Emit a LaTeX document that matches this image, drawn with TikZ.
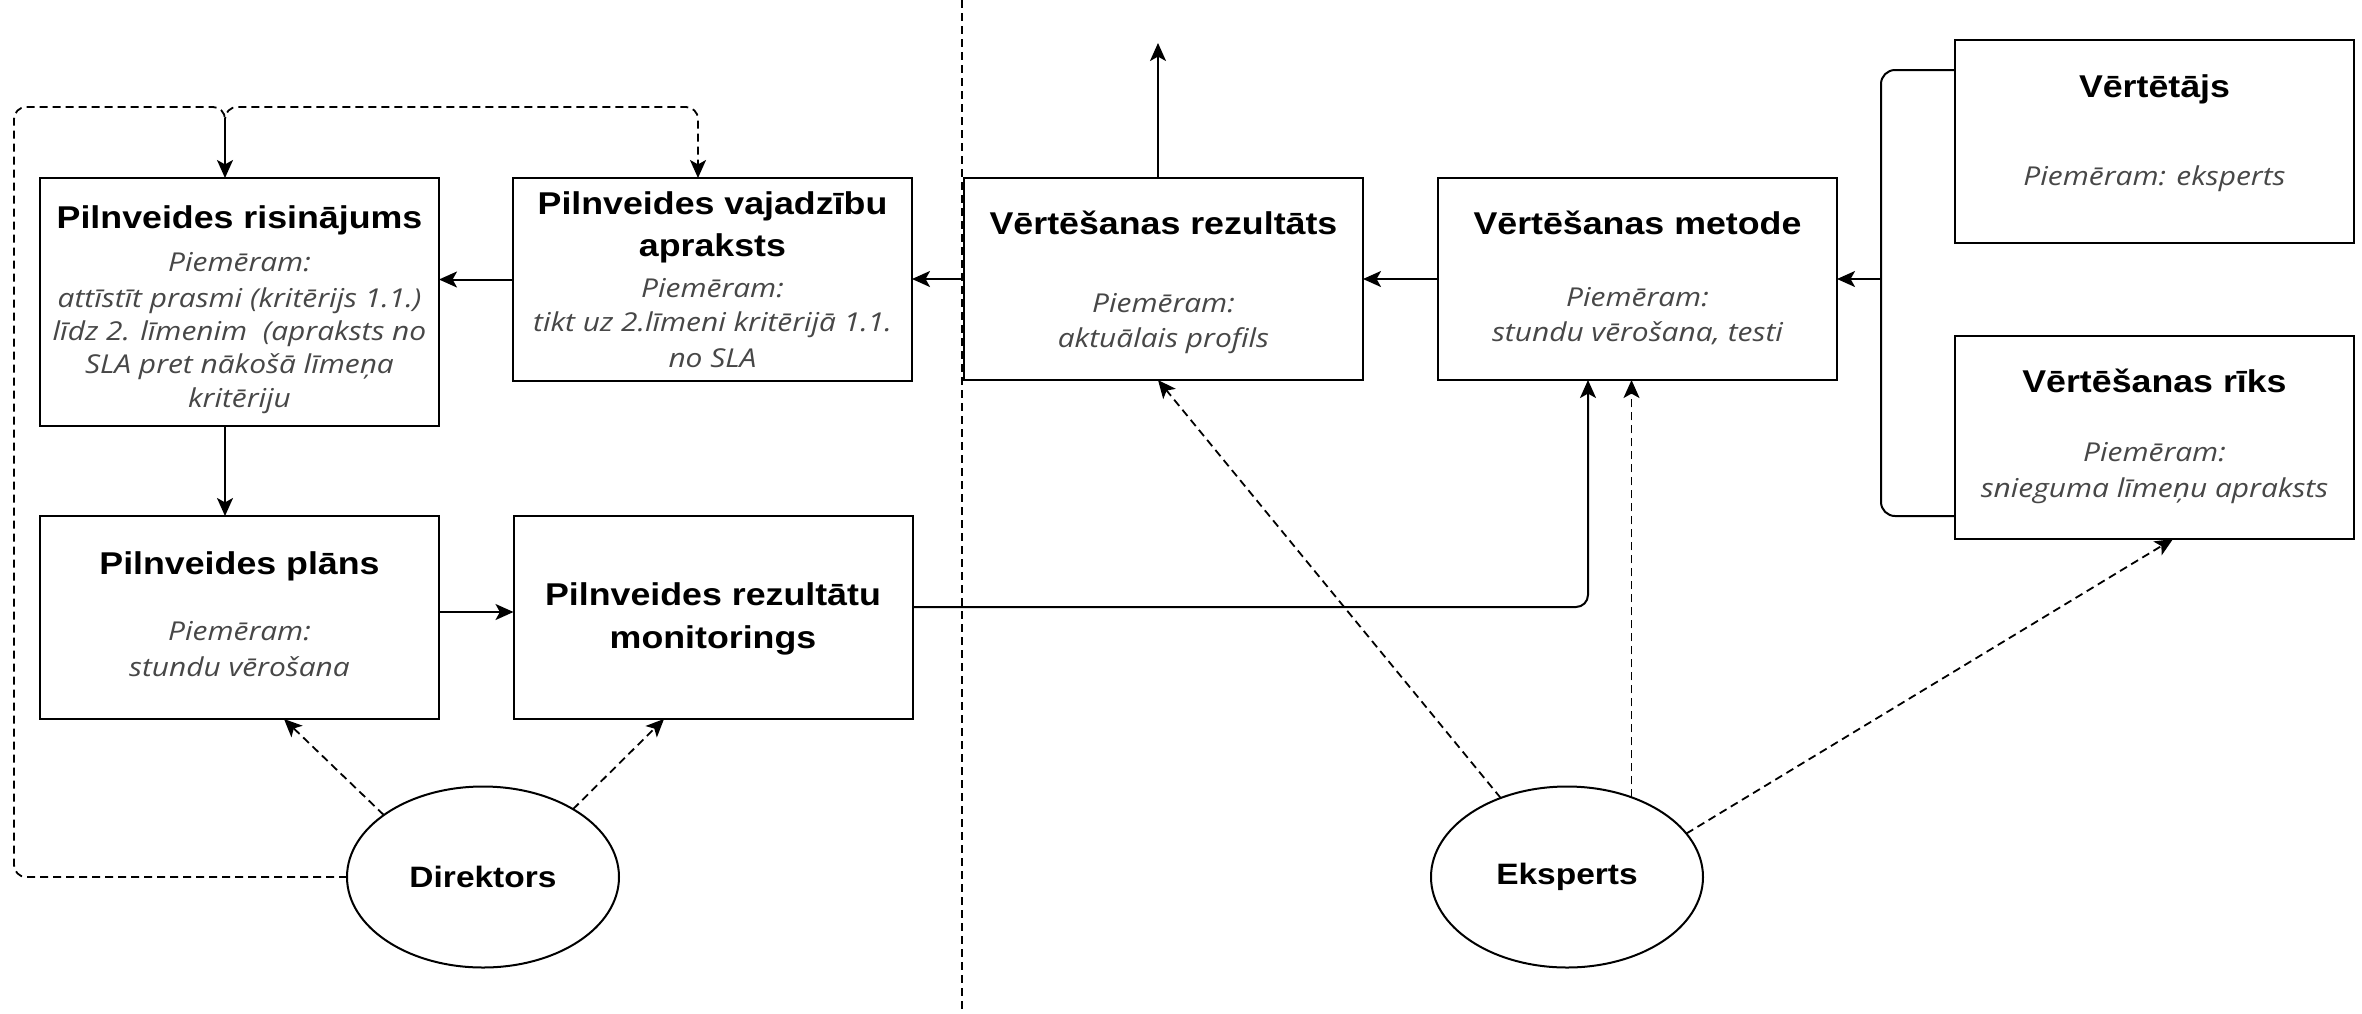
\documentclass[tikz,border=0pt]{standalone}
\usepackage{fontspec}
\setmainfont{Liberation Sans}
\newfontfamily\ttlfont[FakeStretch=1.135]{Liberation Sans}
\newfontfamily\exfont[FakeStretch=1.15]{Open Sans}
\usetikzlibrary{arrows.meta,shapes.geometric}
\tikzset{
  box/.style={draw, line width=1pt, inner sep=0pt, outer sep=0pt, minimum width=199.5pt, fill=white},
  actor/.style={draw, ellipse, line width=1pt, inner sep=0pt, outer sep=0pt, minimum width=136pt, minimum height=90.5pt, fill=white,
    font=\ttlfont\bfseries\fontsize{14.75pt}{18pt}\selectfont},
  ttl/.style={font=\ttlfont\bfseries\fontsize{15.75pt}{21pt}\selectfont, inner sep=0pt, text height=11.3pt, text depth=0pt},
  ex/.style={font=\exfont\itshape\fontsize{13pt}{17pt}\selectfont, text=black!72, inner sep=0pt, text height=9.3pt, text depth=0pt},
  tip/.style={-{Stealth[length=9pt,width=8pt,inset=2.2pt]}},
  conn/.style={line width=1pt, tip},
  dconn/.style={line width=0.9pt, tip, dash pattern=on 4pt off 2.5pt},
  link/.style={line width=1pt},
  dlink/.style={line width=0.9pt, dash pattern=on 4pt off 2.5pt},
  divider/.style={line width=0.6pt, dash pattern=on 4pt off 2.5pt}
}
\begin{document}
\begin{tikzpicture}[x=0.5pt,y=-0.5pt]
\useasboundingbox[fill=white] (0,0) rectangle (2362,1013);

% divider
\coordinate (divtop) at (962,0);
\coordinate (divbot) at (962,1013);
\draw[divider] (divtop) -- (divbot);

% boxes
\node[box, minimum height=124pt]   (A) at (239.5,302) {};
\node[box, minimum height=101.5pt] (B) at (712.5,279.5) {};
\node[box, minimum height=101pt]   (C) at (1163.5,279) {};
\node[box, minimum height=101pt]   (D) at (1637.5,279) {};
\node[box, minimum height=101.5pt] (E) at (2154.5,141.5) {};
\node[box, minimum height=101.5pt] (F) at (2154.5,437.5) {};
\node[box, minimum height=101.5pt] (G) at (239.5,617.5) {};
\node[box, minimum height=101.5pt] (H) at (713,617.5) {};
\node[actor] (dir) at (483,877) {Direktors};
\node[actor] (eks) at (1567,877) {Eksperts};

% texts
\node[ttl] (At) at (239.5,217) {Pilnveides risinājums};
\node[ex] (A1) at (239.5,262) {Piemēram:};
\node[ex] (A2) at (239.5,298) {attīstīt prasmi (kritērijs 1.1.)};
\node[ex] (A3) at (239.5,331) {līdz 2. līmenim\ \ (apraksts no};
\node[ex] (A4) at (239.5,364) {SLA pret nākošā līmeņa};
\node[ex] (A5) at (239.5,398) {kritēriju};

\node[ttl] (Bt1) at (712.5,203) {Pilnveides vajadzību};
\node[ttl] (Bt2) at (712.5,245) {apraksts};
\node[ex] (B1) at (712.5,288) {Piemēram:};
\node[ex] (B2) at (712.5,322) {tikt uz 2.līmeni kritērijā 1.1.};
\node[ex] (B3) at (712.5,358) {no SLA};

\node[ttl] (Ct) at (1163.5,223) {Vērtēšanas rezultāts};
\node[ex] (C1) at (1163.5,303) {Piemēram:};
\node[ex] (C2) at (1163.5,338) {aktuālais profils};

\node[ttl] (Dt) at (1637.5,223) {Vērtēšanas metode};
\node[ex] (D1) at (1637.5,297) {Piemēram:};
\node[ex] (D2) at (1637.5,332) {stundu vērošana, testi};

\node[ttl] (Et) at (2154.5,86) {Vērtētājs};
\node[ex] (E1) at (2154.5,176) {Piemēram: eksperts};

\node[ttl] (Ft) at (2154.5,381) {Vērtēšanas rīks};
\node[ex] (F1) at (2154.5,452) {Piemēram:};
\node[ex] (F2) at (2154.5,488) {snieguma līmeņu apraksts};

\node[ttl] (Gt) at (239.5,563) {Pilnveides plāns};
\node[ex] (G1) at (239.5,631) {Piemēram:};
\node[ex] (G2) at (239.5,667) {stundu vērošana};

\node[ttl] (Ht1) at (713,594) {Pilnveides rezultātu};
\node[ttl] (Ht2) at (713,637) {monitorings};

% helper coordinates
\coordinate (xa) at (225,0);
\coordinate (xb) at (698,0);
\coordinate (ytop) at (0,107);
\coordinate (cup) at (1158,43);
\coordinate (xd) at (1588,0);
\coordinate (yh) at (0,607);
\coordinate (yg) at (0,612);
\coordinate (bx) at (1881,0);
\coordinate (ye) at (0,70);
\coordinate (yf) at (0,516);
\coordinate (xf) at (2173,0);
\coordinate (xg) at (284,0);
\coordinate (xh) at (664,0);
\coordinate (loopx) at (14,0);
\coordinate (yj) at (0,125);

% solid connectors
\draw[conn] (B.west) -- (A.east |- B.west);
\draw[conn] (C.west) -- (B.east |- C.west);
\draw[conn] (D.west) -- (C.east |- D.west);
\draw[conn] (C.north -| cup) -- (cup);
\draw[conn] (A.south -| xa) -- (G.north -| xa);
\draw[conn] (G.east |- yg) -- (H.west |- yg);
\draw[conn, rounded corners=6pt] (H.east |- yh) -| (D.south -| xd);

% bracket to D
\draw[link, rounded corners=7pt] (E.west |- ye) -- (bx |- ye) -- (bx |- yf) -- (F.west |- yf);
\draw[conn] (bx |- D.east) -- (D.east);

% Direktors loop
\draw[dlink, rounded corners=6pt] (dir.west) -| (loopx |- ytop) -- (xa |- ytop) -- (xa |- yj);
\draw[conn] (xa |- yj) -- (xa |- A.north);
\draw[dconn, rounded corners=6pt] (xa |- yj) |- (xb |- ytop) -- (xb |- B.north);

% Direktors dashed arrows
\draw[dconn] (dir.148) -- (G.south -| xg);
\draw[dconn] (dir.37) -- (H.south -| xh);

% Eksperts dashed arrows
\draw[dconn] (eks.130) -- (C.south -| cup);
\draw[dconn] (eks.51) -- (eks.51 |- D.south);
\draw[dconn] (eks.20) -- (F.south -| xf);
\end{tikzpicture}
\end{document}
